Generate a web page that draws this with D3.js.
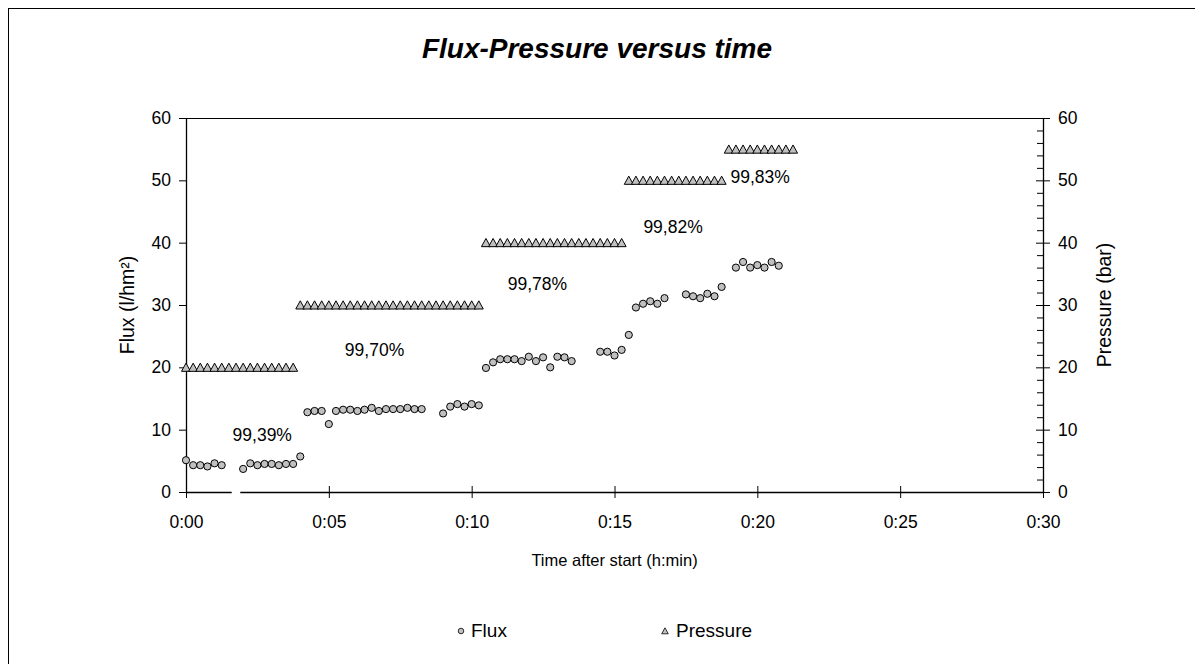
<!DOCTYPE html>
<html>
<head>
<meta charset="utf-8">
<script src="https://cdn.jsdelivr.net/npm/d3@7"></script>
<style>
  body { margin: 0; background: #fff; }
  svg { display: block; }
  text { font-family: "Liberation Sans", Arial, Helvetica, sans-serif; fill: #000; }
</style>
</head>
<body>
<svg id="chart" width="1195" height="664"></svg>
<script>
// Flux readings (minutes after start, l/hm²)
const fluxTimes = [
  0, 0.25, 0.5, 0.75, 1, 1.25,
  2, 2.25, 2.5, 2.75, 3, 3.25, 3.5, 3.75, 4,
  4.25, 4.5, 4.75, 5, 5.25, 5.5, 5.75, 6, 6.25, 6.5, 6.75, 7, 7.25, 7.5, 7.75, 8, 8.25,
  9, 9.25, 9.5, 9.75, 10, 10.25,
  10.5, 10.75, 11, 11.25, 11.5, 11.75, 12, 12.25, 12.5, 12.75, 13, 13.25, 13.5,
  14.5, 14.75, 15, 15.25, 15.5, 15.75, 16, 16.25, 16.5, 16.75,
  17.5, 17.75, 18, 18.25, 18.5, 18.75,
  19.25, 19.5, 19.75, 20, 20.25, 20.5, 20.75
];
const fluxValues = [
  5.1, 4.3, 4.3, 4.1, 4.6, 4.3,
  3.7, 4.6, 4.3, 4.5, 4.5, 4.3, 4.5, 4.5, 5.7,
  12.8, 13.0, 13.0, 10.9, 13.0, 13.2, 13.2, 13.0, 13.2, 13.5, 13.0, 13.3, 13.3, 13.3, 13.5, 13.3, 13.3,
  12.6, 13.7, 14.1, 13.7, 14.1, 13.9,
  19.9, 20.8, 21.3, 21.3, 21.3, 21.0, 21.7, 21.0, 21.6, 20.0, 21.7, 21.6, 21.0,
  22.5, 22.5, 21.9, 22.8, 25.2, 29.6, 30.2, 30.6, 30.2, 31.1,
  31.7, 31.4, 31.1, 31.8, 31.4, 32.9,
  36.0, 36.9, 36.0, 36.4, 36.0, 36.9, 36.3
];

// Pressure readings (minutes after start, bar)
const pressureTimes = [
  0, 0.25, 0.5, 0.75, 1, 1.25, 1.5, 1.75, 2, 2.25, 2.5, 2.75, 3, 3.25, 3.5, 3.75,
  4, 4.25, 4.5, 4.75, 5, 5.25, 5.5, 5.75, 6, 6.25, 6.5, 6.75, 7, 7.25, 7.5, 7.75,
  8, 8.25, 8.5, 8.75, 9, 9.25, 9.5, 9.75, 10, 10.25,
  10.5, 10.75, 11, 11.25, 11.5, 11.75, 12, 12.25, 12.5, 12.75, 13, 13.25, 13.5, 13.75,
  14, 14.25, 14.5, 14.75, 15, 15.25,
  15.5, 15.75, 16, 16.25, 16.5, 16.75, 17, 17.25, 17.5, 17.75, 18, 18.25, 18.5, 18.75,
  19, 19.25, 19.5, 19.75, 20, 20.25, 20.5, 20.75, 21, 21.25
];
const pressureValues = [
  20, 20, 20, 20, 20, 20, 20, 20, 20, 20, 20, 20, 20, 20, 20, 20,
  30, 30, 30, 30, 30, 30, 30, 30, 30, 30, 30, 30, 30, 30, 30, 30,
  30, 30, 30, 30, 30, 30, 30, 30, 30, 30,
  40, 40, 40, 40, 40, 40, 40, 40, 40, 40, 40, 40, 40, 40,
  40, 40, 40, 40, 40, 40,
  50, 50, 50, 50, 50, 50, 50, 50, 50, 50, 50, 50, 50, 50,
  55, 55, 55, 55, 55, 55, 55, 55, 55, 55
];

// Retention per pressure stage, placed at (minutes, flux units)
const retentionLabels = ["99,39%", "99,70%", "99,78%", "99,82%", "99,83%"];
const retentionAnchors = [[2.67, 9.2], [6.6, 22.8], [12.3, 33.4], [17.05, 42.5], [20.1, 50.6]];

// Axis ticks
const timeTicks = [0, 5, 10, 15, 20, 25, 30];
const timeTickLabels = ["0:00", "0:05", "0:10", "0:15", "0:20", "0:25", "0:30"];
const fluxTicks = [0, 10, 20, 30, 40, 50, 60];
const pressureTicks = [0, 10, 20, 30, 40, 50, 60];
const pressureMinorTicks = [2, 4, 6, 8, 12, 14, 16, 18, 22, 24, 26, 28, 32, 34, 36, 38, 42, 44, 46, 48, 52, 54, 56, 58];
// Stretch of time with no baseline drawn
const baselineBreak = [1.6, 1.9];

const svg = d3.select("#chart");
const plotLeft = 186, plotRight = 1043, plotTop = 118, plotBottom = 492;

const x = d3.scaleLinear().domain([0, 30]).range([plotLeft, plotRight]);
const yFlux = d3.scaleLinear().domain([0, 60]).range([plotBottom, plotTop]);
const yPress = d3.scaleLinear().domain([0, 60]).range([plotBottom, plotTop]);

// Outer frame
svg.append("rect")
  .attr("x", 8.5).attr("y", 8.5)
  .attr("width", 1300).attr("height", 800)
  .attr("fill", "none").attr("stroke", "#000").attr("stroke-width", 1);

// Title
svg.append("text")
  .attr("x", 597).attr("y", 58)
  .attr("text-anchor", "middle")
  .style("font-size", "28px").style("font-weight", "bold").style("font-style", "italic")
  .text("Flux-Pressure versus time");

// Top edge of plot area
svg.append("line")
  .attr("x1", plotLeft).attr("x2", plotRight).attr("y1", plotTop + 0.5).attr("y2", plotTop + 0.5)
  .attr("stroke", "#000");

// Left axis (flux)
const axL = svg.append("g")
  .attr("transform", `translate(${plotLeft},0)`)
  .call(d3.axisLeft(yFlux).tickValues(fluxTicks).tickSize(7).tickSizeOuter(0).tickPadding(8));

// Right axis (pressure)
const axR = svg.append("g")
  .attr("transform", `translate(${plotRight},0)`)
  .call(d3.axisRight(yPress).tickValues(pressureTicks).tickSize(7).tickSizeOuter(0).tickPadding(8));
axR.selectAll(".tick").append("line").attr("x1", -7).attr("x2", 0).attr("stroke", "#000");
axR.selectAll(".minor").data(pressureMinorTicks).enter().append("line")
  .attr("class", "minor")
  .attr("x1", -6).attr("x2", 0)
  .attr("y1", d => yPress(d) + 0.5).attr("y2", d => yPress(d) + 0.5)
  .attr("stroke", "#000");

// Bottom axis (time)
const axB = svg.append("g")
  .attr("transform", `translate(0,${plotBottom})`)
  .call(d3.axisBottom(x).tickValues(timeTicks)
    .tickFormat((d, i) => timeTickLabels[i])
    .tickSize(6).tickSizeOuter(0).tickPadding(18));
axB.selectAll(".tick").append("line").attr("y1", -6).attr("y2", 0).attr("stroke", "#000");
axB.append("line")
  .attr("x1", x(baselineBreak[0])).attr("x2", x(baselineBreak[1]))
  .attr("y1", 0.5).attr("y2", 0.5)
  .attr("stroke", "#fff").attr("stroke-width", 3);

[axL, axR, axB].forEach(g => {
  g.select(".domain").attr("stroke", "#000").attr("stroke-width", 1.3);
  g.selectAll(".tick line").attr("stroke", "#000");
  g.selectAll("text").style("font-size", "17.5px").attr("fill", "#000");
});

// Axis titles
svg.append("text")
  .attr("transform", "translate(127,305) rotate(-90)")
  .attr("text-anchor", "middle").attr("dominant-baseline", "central")
  .style("font-size", "19.5px")
  .text("Flux (l/hm²)");
svg.append("text")
  .attr("transform", "translate(1104,305) rotate(-90)")
  .attr("text-anchor", "middle").attr("dominant-baseline", "central")
  .style("font-size", "19.5px")
  .text("Pressure (bar)");
svg.append("text")
  .attr("x", (plotLeft + plotRight) / 2).attr("y", 566)
  .attr("text-anchor", "middle")
  .style("font-size", "16.5px")
  .text("Time after start (h:min)");

const markerFill = "#c0c0c0";
const triPath = "M-4.5,4 L0,-4.2 L4.5,4 Z";

// Pressure markers
svg.append("g").selectAll("path")
  .data(pressureTimes.map((t, i) => [t, pressureValues[i]]))
  .enter().append("path")
  .attr("d", triPath)
  .attr("transform", d => `translate(${x(d[0])},${yPress(d[1])})`)
  .attr("fill", markerFill).attr("stroke", "#000").attr("stroke-width", 1);

// Flux markers
svg.append("g").selectAll("circle")
  .data(fluxTimes.map((t, i) => [t, fluxValues[i]]))
  .enter().append("circle")
  .attr("cx", d => x(d[0])).attr("cy", d => yFlux(d[1]))
  .attr("r", 3.6)
  .attr("fill", markerFill).attr("stroke", "#000").attr("stroke-width", 1);

// Retention labels
svg.append("g").selectAll("text")
  .data(retentionLabels)
  .enter().append("text")
  .attr("x", (d, i) => x(retentionAnchors[i][0]))
  .attr("y", (d, i) => yFlux(retentionAnchors[i][1]))
  .attr("text-anchor", "middle").attr("dominant-baseline", "central")
  .style("font-size", "17.5px")
  .text(d => d);

// Legend
const legend = svg.append("g");
legend.append("circle").attr("cx", 461).attr("cy", 631).attr("r", 2.8)
  .attr("fill", markerFill).attr("stroke", "#000").attr("stroke-width", 0.8);
legend.append("text").attr("x", 471).attr("y", 637).style("font-size", "19px").text("Flux");
legend.append("path").attr("d", "M-3.3,2.8 L0,-3.2 L3.3,2.8 Z")
  .attr("transform", "translate(665,631)")
  .attr("fill", markerFill).attr("stroke", "#000").attr("stroke-width", 0.8);
legend.append("text").attr("x", 676).attr("y", 637).style("font-size", "19px").text("Pressure");
</script>
</body>
</html>
